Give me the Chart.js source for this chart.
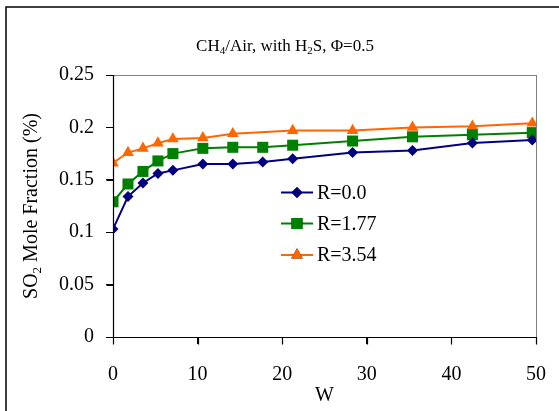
<!DOCTYPE html>
<html>
<head>
<meta charset="utf-8">
<script src="https://cdn.jsdelivr.net/npm/chart.js@4.4.1/dist/chart.umd.min.js"></script>
<style>
  html, body { margin: 0; padding: 0; background: #fff; }
  #wrap { width: 559px; height: 411px; position: relative; }
</style>
</head>
<body>
<div id="wrap"><canvas id="c" width="559" height="411"></canvas></div>
<script>
// Dimensionless parameter W at which SO2 was sampled
const wValues = [0, 1.77, 3.54, 5.31, 7.08, 10.62, 14.16, 17.7, 21.24, 28.32, 35.4, 42.48, 49.56];

// SO2 mole fraction (%) for each R
const seriesR000 = [0.103, 0.134, 0.147, 0.156, 0.159, 0.165, 0.165, 0.167, 0.170, 0.176, 0.178, 0.185, 0.188];
const seriesR177 = [0.129, 0.146, 0.158, 0.168, 0.175, 0.180, 0.181, 0.181, 0.183, 0.187, 0.191, 0.193, 0.195];
const seriesR354 = [0.166, 0.176, 0.180, 0.185, 0.189, 0.190, 0.194, null, 0.197, 0.197, 0.200, 0.201, 0.204];

const seriesNames = ['R=0.0', 'R=1.77', 'R=3.54'];
const xTickValues = [0, 10, 20, 30, 40, 50];
const yTickValues = [0, 0.05, 0.1, 0.15, 0.2, 0.25];

const SERIF = '"Liberation Serif", "Times New Roman", serif';
const TICK_LEN = 7;

function pts(ys) {
  return wValues.map((w, i) => ({ x: w, y: ys[i] }));
}

const styles = [
  { color: '#000080', shape: 'rectRot', r: 5.5 },
  { color: '#008000', shape: 'rect', r: 7.8 },
  { color: '#FF6600', shape: 'triangle', r: 6.8 }
];

const datasets = [seriesR000, seriesR177, seriesR354].map((ys, i) => ({
  label: seriesNames[i],
  data: pts(ys),
  borderColor: styles[i].color,
  backgroundColor: styles[i].color,
  borderWidth: 2,
  pointStyle: styles[i].shape,
  pointRadius: styles[i].r,
  pointBorderWidth: 0,
  pointBackgroundColor: styles[i].color,
  tension: 0,
  spanGaps: true
}));

// Draw text runs with optional subscripts
function richWidth(ctx, runs, size) {
  let w = 0;
  runs.forEach(r => {
    ctx.font = (r.sub ? size * 0.65 : size) + 'px ' + SERIF;
    w += ctx.measureText(r.t).width;
  });
  return w;
}
function drawRich(ctx, runs, size, x, y) {
  runs.forEach(r => {
    const s = r.sub ? size * 0.65 : size;
    ctx.font = s + 'px ' + SERIF;
    ctx.fillText(r.t, x, r.sub ? y + size * 0.2 : y);
    x += ctx.measureText(r.t).width;
  });
}

const decorations = {
  id: 'decorations',
  beforeDraw(chart) {
    const ctx = chart.ctx;
    const a = chart.chartArea;
    ctx.save();
    ctx.fillStyle = '#fff';
    ctx.fillRect(0, 0, chart.width, chart.height);
    // frame around the plot area
    ctx.strokeStyle = '#808080';
    ctx.lineWidth = 1;
    ctx.strokeRect(Math.round(a.left) + 0.5, Math.round(a.top) + 0.5,
                   Math.round(a.right - a.left), Math.round(a.bottom - a.top));
    ctx.restore();
  },
  afterDraw(chart) {
    const ctx = chart.ctx;
    const a = chart.chartArea;
    const xs = chart.scales.x, ys = chart.scales.y;
    ctx.save();

    // axis lines and outward tick marks
    ctx.strokeStyle = '#000';
    ctx.lineWidth = 1.2;
    const L = Math.round(a.left) + 0.5, B = Math.round(a.bottom) + 0.5;
    ctx.beginPath();
    ctx.moveTo(L, a.top); ctx.lineTo(L, B); ctx.lineTo(a.right, B);
    xTickValues.forEach(v => {
      const px = Math.round(xs.getPixelForValue(v)) + 0.5;
      ctx.moveTo(px, B); ctx.lineTo(px, B + TICK_LEN);
    });
    yTickValues.forEach(v => {
      const py = Math.round(ys.getPixelForValue(v)) + 0.5;
      ctx.moveTo(L, py); ctx.lineTo(L - TICK_LEN, py);
    });
    ctx.stroke();

    // outer box
    ctx.lineWidth = 1.5;
    ctx.beginPath();
    ctx.moveTo(6, chart.height + 2);
    ctx.lineTo(6, 7);
    ctx.lineTo(chart.width + 2, 7);
    ctx.stroke();

    ctx.fillStyle = '#000';
    ctx.textBaseline = 'alphabetic';
    // title
    const title = [{ t: 'CH' }, { t: '4', sub: true }, { t: '/Air, with H' }, { t: '2', sub: true }, { t: 'S, Φ=0.5' }];
    const tw = richWidth(ctx, title, 17);
    drawRich(ctx, title, 17, 285 - tw / 2, 51);

    // y axis title
    const ytitle = [{ t: 'SO' }, { t: '2', sub: true }, { t: ' Mole Fraction (%)' }];
    const yw = richWidth(ctx, ytitle, 20);
    ctx.save();
    ctx.translate(37, (a.top + a.bottom) / 2);
    ctx.rotate(-Math.PI / 2);
    drawRich(ctx, ytitle, 20, -yw / 2, 0);
    ctx.restore();

    // x axis title
    ctx.font = '20px ' + SERIF;
    ctx.textAlign = 'center';
    ctx.fillText('W', (a.left + a.right) / 2, 401);

    // legend inside plot
    ctx.textAlign = 'left';
    ctx.textBaseline = 'middle';
    const rows = [192.5, 223.5, 255];
    chart.data.datasets.forEach((ds, i) => {
      const y = rows[i];
      ctx.strokeStyle = ds.borderColor;
      ctx.lineWidth = 2;
      ctx.beginPath();
      ctx.moveTo(281, y);
      ctx.lineTo(313, y);
      ctx.stroke();
      Chart.helpers.drawPoint(ctx, {
        pointStyle: ds.pointStyle, radius: ds.pointRadius, borderWidth: 0, rotation: 0
      }, 297, y);
      ctx.fillStyle = ds.borderColor;
      ctx.fill();
      ctx.fillStyle = '#000';
      ctx.font = '20px ' + SERIF;
      ctx.fillText(ds.label, 317, y + 1);
    });
    ctx.restore();
  }
};

new Chart(document.getElementById('c'), {
  type: 'line',
  data: { datasets },
  options: {
    responsive: false,
    animation: false,
    devicePixelRatio: 1,
    layout: { padding: { top: 75, right: 23, left: 0, bottom: 0 } },
    plugins: { legend: { display: false }, title: { display: false }, tooltip: { enabled: false } },
    scales: {
      x: {
        type: 'linear',
        min: 0, max: 50,
        afterBuildTicks: s => { s.ticks = xTickValues.map(v => ({ value: v })); },
        afterFit: s => { s.height = 74; s.paddingLeft = 0; s.paddingRight = 0; },
        grid: { drawOnChartArea: false, drawTicks: true, tickLength: TICK_LEN, color: '#000', tickColor: '#000' },
        border: { color: '#000', width: 1 },
        ticks: { color: '#000', font: { family: SERIF, size: 20 }, padding: 19, maxRotation: 0,
                 callback: v => String(v) }
      },
      y: {
        min: 0, max: 0.25,
        afterBuildTicks: s => { s.ticks = yTickValues.map(v => ({ value: v })); },
        afterFit: s => { s.width = 113; s.paddingTop = 0; s.paddingBottom = 0; },
        grid: { drawOnChartArea: false, drawTicks: true, tickLength: TICK_LEN, color: '#000', tickColor: '#000' },
        border: { color: '#000', width: 1 },
        ticks: { color: '#000', font: { family: SERIF, size: 20 }, padding: 12,
                 callback: v => String(+v.toFixed(2)) }
      }
    }
  },
  plugins: [decorations]
});
</script>
</body>
</html>
